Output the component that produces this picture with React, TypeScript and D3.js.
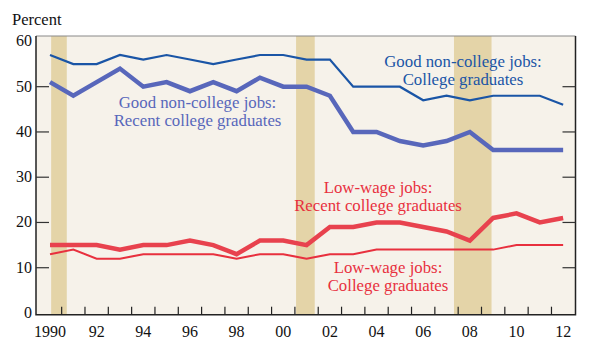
import * as d3 from "d3";
import React, { useEffect, useRef } from "react";

const years = d3.range(1990, 2013);

// Good non-college jobs: college graduates
const goodAll = [57, 55, 55, 57, 56, 57, 56, 55, 56, 57, 57, 56, 56, 50, 50, 50, 47, 48, 47, 48, 48, 48, 46];
// Good non-college jobs: recent college graduates
const goodRecent = [51, 48, 51, 54, 50, 51, 49, 51, 49, 52, 50, 50, 48, 40, 40, 38, 37, 38, 40, 36, 36, 36, 36];
// Low-wage jobs: recent college graduates
const lowRecent = [15, 15, 15, 14, 15, 15, 16, 15, 13, 16, 16, 15, 19, 19, 20, 20, 19, 18, 16, 21, 22, 20, 21];
// Low-wage jobs: college graduates
const lowAll = [13, 14, 12, 12, 13, 13, 13, 13, 12, 13, 13, 12, 13, 13, 14, 14, 14, 14, 14, 14, 15, 15, 15];

// recession shading (fractional years)
const recessions: [number, number][] = [
  [1990.05, 1990.72],
  [2000.55, 2001.35],
  [2007.32, 2008.93],
];

const yTicks = [0, 10, 20, 30, 40, 50, 60];
const xLabelYears = [1990, 1992, 1994, 1996, 1998, 2000, 2002, 2004, 2006, 2008, 2010, 2012];

const App = () => {
  const svgRef = useRef<SVGSVGElement | null>(null);

  useEffect(() => {
    const svg = d3.select(svgRef.current);
    svg.selectAll("*").remove();

    const width = 593;
    const height = 351;
    const left = 36;
    const right = 575.5;
    const top = 36;
    const bottom = 314.7;

    const x = d3.scaleLinear().domain([1989.4, 2012.53]).range([left, right]);
    const y = d3.scaleLinear().domain([-0.38, 61.2]).range([bottom, top]);

    svg.append("rect").attr("width", width).attr("height", height).attr("fill", "#fff");

    // plot background
    svg
      .append("rect")
      .attr("x", left)
      .attr("y", top)
      .attr("width", right - left)
      .attr("height", bottom - top)
      .attr("fill", "#f6f2ea");

    // recession bands
    svg
      .selectAll(".band")
      .data(recessions)
      .enter()
      .append("rect")
      .attr("x", (d) => x(d[0]))
      .attr("y", top)
      .attr("width", (d) => x(d[1]) - x(d[0]))
      .attr("height", bottom - top)
      .attr("fill", "#e4d4a8");

    const line = d3
      .line<number>()
      .x((_, i) => x(years[i]))
      .y((d) => y(d));

    const series = [
      { values: goodRecent, color: "#5867bb", w: 4.5 },
      { values: goodAll, color: "#1a55a6", w: 2.2 },
      { values: lowRecent, color: "#e8424e", w: 4.5 },
      { values: lowAll, color: "#e8303e", w: 2 },
    ];

    svg
      .selectAll(".series")
      .data(series)
      .enter()
      .append("path")
      .attr("fill", "none")
      .attr("stroke", (d) => d.color)
      .attr("stroke-width", (d) => d.w)
      .attr("stroke-linejoin", "miter")
      .attr("d", (d) => line(d.values));

    // frame
    svg
      .append("path")
      .attr("d", `M${left},${top}H${right}`)
      .attr("stroke", "#888")
      .attr("stroke-width", 1);
    svg
      .append("path")
      .attr("d", `M${left},${top}V${bottom}H${right}V${top}`)
      .attr("fill", "none")
      .attr("stroke", "#222")
      .attr("stroke-width", 1.5);

    // y ticks (inward, both sides)
    const tickVals = yTicks.filter((v) => v > 0 && v < 60);
    svg
      .selectAll(".ytl")
      .data(tickVals)
      .enter()
      .append("path")
      .attr("d", (d) => `M${left},${y(d)}h13`)
      .attr("stroke", "#333")
      .attr("stroke-width", 1.2);
    svg
      .selectAll(".ytr")
      .data(tickVals)
      .enter()
      .append("path")
      .attr("d", (d) => `M${right},${y(d)}h-13`)
      .attr("stroke", "#333")
      .attr("stroke-width", 1.2);

    const txt = svg.append("g").style("font-family", "Liberation Serif, DejaVu Serif, serif");

    txt
      .selectAll(".ylab")
      .data(yTicks)
      .enter()
      .append("text")
      .attr("x", 32)
      .attr("y", (d) => y(d) + 5)
      .attr("text-anchor", "end")
      .attr("font-size", 16)
      .attr("fill", "#111")
      .text((d) => d);

    // x ticks at year boundaries
    const xTicks = d3.range(1990.5, 2012, 1);
    svg
      .selectAll(".xt")
      .data(xTicks)
      .enter()
      .append("path")
      .attr("d", (d) => `M${x(d)},${bottom}v-8`)
      .attr("stroke", "#222")
      .attr("stroke-width", 1.2);

    txt
      .selectAll(".xlab")
      .data(xLabelYears)
      .enter()
      .append("text")
      .attr("x", (d) => x(d))
      .attr("y", 337)
      .attr("text-anchor", "middle")
      .attr("font-size", 16)
      .attr("fill", "#111")
      .text((d) => (d === 1990 ? "1990" : String(d % 100).padStart(2, "0")));

    txt
      .append("text")
      .attr("x", 12)
      .attr("y", 25)
      .attr("font-size", 16.5)
      .attr("fill", "#111")
      .text("Percent");

    // series labels
    const labels = [
      { lines: ["Good non-college jobs:", "College graduates"], cx: 463, by: 67, color: "#1a55a6" },
      { lines: ["Good non-college jobs:", "Recent college graduates"], cx: 197.5, by: 108, color: "#5867bb" },
      { lines: ["Low-wage jobs:", "Recent college graduates"], cx: 378, by: 193, color: "#e8303e" },
      { lines: ["Low-wage jobs:", "College graduates"], cx: 388, by: 273, color: "#e8303e" },
    ];

    labels.forEach((lab) => {
      const t = txt
        .append("text")
        .attr("text-anchor", "middle")
        .attr("font-size", 16.8)
        .attr("fill", lab.color);
      lab.lines.forEach((s, i) => {
        t.append("tspan").attr("x", lab.cx).attr("y", lab.by + i * 18).text(s);
      });
    });
  }, []);

  return (
    <svg
      ref={svgRef}
      width="593"
      height="351"
      style={{ position: "absolute", left: 0, top: 0, display: "block" }}
    ></svg>
  );
};

export default App;
